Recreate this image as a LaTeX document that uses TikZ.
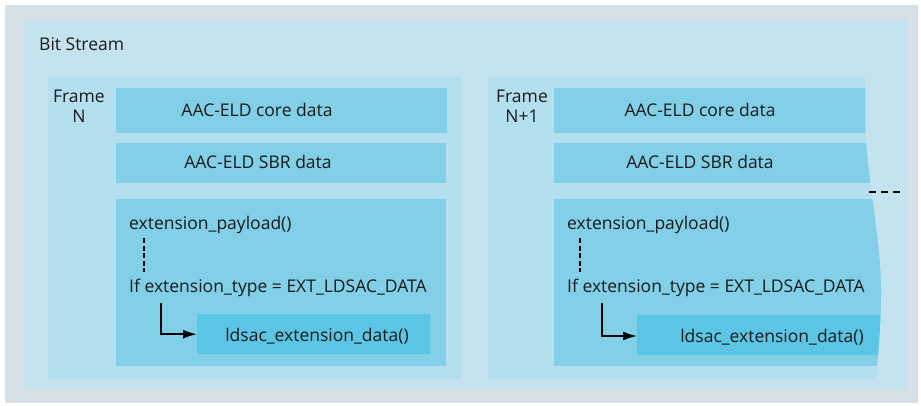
\documentclass[tikz,border=0pt]{standalone}
\usepackage{fontspec}
\setmainfont{Open Sans}
\usetikzlibrary{arrows.meta}
\definecolor{outerg}{HTML}{D6E1E7}
\definecolor{streamc}{HTML}{C5E3EE}
\definecolor{framec}{HTML}{B3DFEF}
\definecolor{boxc}{HTML}{82CFE8}
\definecolor{ldsacc}{HTML}{5BC5E5}
\definecolor{txtc}{HTML}{1A1A1A}
\tikzset{
  txt/.style={text=txtc, inner sep=0pt, font=\fontsize{17.5}{20}\selectfont},
  boxr/.style={fill=boxc, draw=none, inner sep=0pt, anchor=north west},
  ldr/.style={fill=ldsacc, draw=none, inner sep=0pt, anchor=north west},
  dotv/.style={draw=black, line width=2.2pt, dash pattern=on 5pt off 2.5pt},
  elbow/.style={draw=black, line width=1.8pt, -{Latex[length=14pt,width=9pt]}},
}
\begin{document}
\begin{tikzpicture}[x=1pt,y=-1pt]
\useasboundingbox (0,0) rectangle (921,405);
\fill[white] (0,0) rectangle (921,405);
\fill[outerg] (5,5) rectangle (918,403);
\fill[streamc] (24,20) rectangle (907,389);
\node[txt, anchor=west] (bs) at (39,44) {Bit Stream};

% Frame N
\fill[framec] (48,77) rectangle (462,379);
\node[txt, align=center] (fN) at (79,106) {Frame\\N};
\node[boxr, minimum width=331pt, minimum height=45pt] (coreN) at (116,88) {};
\node[txt] (coreNt) at (257,110) {AAC-ELD core data};
\node[boxr, minimum width=330pt, minimum height=40pt] (sbrN) at (116,143) {};
\node[txt] (sbrNt) at (258,162) {AAC-ELD SBR data};
\node[boxr, minimum width=330pt, minimum height=167pt] (extN) at (116,199) {};
\node[txt, anchor=west] (payN) at (129,225) {extension\_payload()};
\node[txt, anchor=west] (ifN) at (129,288) {If extension\_type = EXT\_LDSAC\_DATA};
\node[ldr, minimum width=233pt, minimum height=40pt] (ldN) at (197,314) {};
\node[txt] (ldNt) at (317,336) {ldsac\_extension\_data()};
\coordinate (dNa) at (144,238);
\coordinate (dNb) at (144,272);
\draw[dotv] (dNa) -- (dNb);
\coordinate (aN) at (161,303);
\draw[elbow] (aN) |- (ldN.west);

% Frame N+1 (torn right edge)
\begin{scope}
\clip (480,70) -- (865,70) -- (865,120) .. controls (867,185) and (882,240) .. (881,300)
      .. controls (880,340) and (877,360) .. (876,390) -- (480,390) -- cycle;
\fill[framec] (488,77) rectangle (900,379);
\node[boxr, minimum width=340pt, minimum height=45pt] (coreM) at (554,88) {};
\node[boxr, minimum width=340pt, minimum height=40pt] (sbrM) at (554,143) {};
\node[boxr, minimum width=340pt, minimum height=167pt] (extM) at (554,199) {};
\node[ldr, minimum width=260pt, minimum height=40pt] (ldM) at (637,315) {};
\end{scope}
\node[txt, align=center] (fM) at (522,106) {Frame\\N+1};
\node[txt] (coreMt) at (700,110) {AAC-ELD core data};
\node[txt] (sbrMt) at (700,162) {AAC-ELD SBR data};
\node[txt, anchor=west] (payM) at (567,225) {extension\_payload()};
\node[txt, anchor=west] (ifM) at (567,288) {If extension\_type = EXT\_LDSAC\_DATA};
\node[txt] (ldMt) at (772,337) {ldsac\_extension\_data()};
\coordinate (dMa) at (580,238);
\coordinate (dMb) at (580,272);
\draw[dotv] (dMa) -- (dMb);
\coordinate (aM) at (602,303);
\coordinate (ldMw) at (637,336);
\draw[elbow] (aM) |- (ldMw);

% continuation
\coordinate (c1) at (869,192);
\coordinate (c2) at (900,192);
\draw[draw=black, line width=2pt, dash pattern=on 7pt off 5pt] (c1) -- (c2);
\end{tikzpicture}
\end{document}
